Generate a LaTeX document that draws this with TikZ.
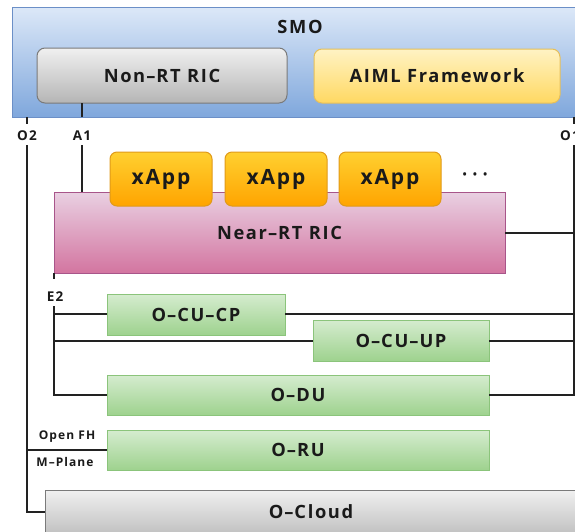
\documentclass[tikz,border=0pt]{standalone}
\usepackage{fontspec}
\setmainfont{Open Sans}[LetterSpace=9]
\definecolor{smoTop}{HTML}{DCE8F8}
\definecolor{smoBot}{HTML}{7FA7DC}
\definecolor{smoLine}{HTML}{6B8FC7}
\definecolor{ricTop}{HTML}{E9D0E2}
\definecolor{ricBot}{HTML}{D375A0}
\definecolor{ricLine}{HTML}{A8558A}
\definecolor{grnTop}{HTML}{D5ECCF}
\definecolor{grnBot}{HTML}{9ED28E}
\definecolor{grnLine}{HTML}{8BC47B}
\definecolor{gryTop}{HTML}{F0F0F0}
\definecolor{gryBot}{HTML}{B5B5B5}
\definecolor{gryLine}{HTML}{7A7A7A}
\definecolor{ymlTop}{HTML}{FFF3C4}
\definecolor{ymlBot}{HTML}{FFD862}
\definecolor{ymlLine}{HTML}{E6BF5A}
\definecolor{appTop}{HTML}{FFD030}
\definecolor{appBot}{HTML}{FFA400}
\definecolor{appLine}{HTML}{E09A1A}
\definecolor{wire}{HTML}{222222}
\definecolor{ink}{HTML}{1A1A1A}
\newcommand{\dsh}{\hspace{1pt}–\hspace{1pt}}
\begin{document}
\begin{tikzpicture}[x=1pt,y=-1pt,
  blk/.style={anchor=north west,inner sep=0pt,outer sep=0pt,align=center,line width=1pt,text=ink},
  big/.style={font=\bfseries\fontsize{18.3}{21}\selectfont},
  lbl/.style={inner sep=0pt,big,text=ink},
  smobox/.style={blk,draw=smoLine,top color=smoTop,bottom color=smoBot},
  ricbox/.style={blk,draw=ricLine,top color=ricTop,bottom color=ricBot,big},
  grnbox/.style={blk,draw=grnLine,top color=grnTop,bottom color=grnBot,big},
  grybox/.style={blk,draw=gryLine,top color=gryTop,bottom color=gryBot,big},
  ymlbox/.style={blk,draw=ymlLine,top color=ymlTop,bottom color=ymlBot,big},
  appbox/.style={blk,draw=appLine,top color=appTop,bottom color=appBot,rounded corners=7pt,
    minimum width=102pt,minimum height=54pt,font=\bfseries\fontsize{21}{24}\selectfont},
  tag/.style={inner sep=0pt,text=ink,font=\bfseries\fontsize{13.5}{16}\selectfont},
  small/.style={inner sep=0pt,text=ink,font=\bfseries\fontsize{12}{14}\selectfont},
  wirestyle/.style={draw=wire,line width=1.2pt}]
\useasboundingbox (0,0) rectangle (575,531);
\clip (0,0) rectangle (575,531);

% management layer
\node[smobox,minimum width=580pt,minimum height=110pt] (smo) at (12,7) {};
\node[lbl] (smolbl) at (300,27) {SMO};
\node[grybox,rounded corners=8pt,minimum width=250pt,minimum height=55pt] (nonrt) at (37,48) {Non\dsh RT RIC};
\node[ymlbox,rounded corners=8pt,minimum width=246pt,minimum height=54pt] (aiml) at (314,49) {AIML Framework};

% near-real-time controller and its apps
\node[ricbox,minimum width=451pt,minimum height=81pt] (nearrt) at (54,192) {\raisebox{-2pt}{Near\dsh RT RIC}};
\node[appbox] (app1) at (110,152) {xApp};
\node[appbox] (app2) at (225,152) {xApp};
\node[appbox] (app3) at (339,152) {xApp};
\node[inner sep=0pt,text=ink,font=\fontsize{14}{16}\selectfont] (dots) at (475,176) {•\hspace{5pt}•\hspace{5pt}•};

% RAN functions
\node[grnbox,minimum width=178pt,minimum height=41pt] (cucp) at (107,294) {O\dsh CU\dsh CP};
\node[grnbox,minimum width=176pt,minimum height=41pt] (cuup) at (313,320) {O\dsh CU\dsh UP};
\node[grnbox,minimum width=382pt,minimum height=40pt] (du) at (107,375) {O\dsh DU};
\node[grnbox,minimum width=382pt,minimum height=40pt] (ru) at (107,430) {O\dsh RU};
\node[grybox,minimum width=560pt,minimum height=55pt] (cloud) at (45,490) {};
\node[lbl] (cloudlbl) at (311,512) {O\dsh Cloud};

% interface labels
\node[tag] (o2) at (27,136) {O2};
\node[tag] (a1) at (82,136) {A1};
\node[tag,anchor=west] (o1) at (560,136) {O1};
\node[tag] (e2) at (55,297) {E2};
\node[small] (ofh) at (67,437) {Open FH};
\node[small] (mpl) at (65,462) {M\dsh Plane};

% junction points
\coordinate (o2top) at (27,117);
\coordinate (o1top) at (574,117);
\coordinate (e2top) at (54,273);

% A1
\draw[wirestyle] (82,103) -- (82,117);
\draw[wirestyle] (82,145) -- (82,192);
% O2
\draw[wirestyle] (o2top) -- ++(0,7);
\draw[wirestyle] (27,145) -- (27,512) -- (cloud.west |- 0,512);
\draw[wirestyle] (27,450) -- (ru.west |- 0,450);
% O1
\draw[wirestyle] (o1top) -- ++(0,7);
\draw[wirestyle] (574,145) -- (574,395) -- (du.east |- 0,395);
\draw[wirestyle] (nearrt.east |- 0,233) -- (574,233);
\draw[wirestyle] (cucp.east |- 0,314) -- (574,314);
\draw[wirestyle] (cuup.east |- 0,341) -- (574,341);
% E2
\draw[wirestyle] (e2top) -- ++(0,6);
\draw[wirestyle] (54,306) -- (54,395) -- (du.west |- 0,395);
\draw[wirestyle] (54,314) -- (cucp.west |- 0,314);
\draw[wirestyle] (54,341) -- (cuup.west |- 0,341);
\end{tikzpicture}
\end{document}
